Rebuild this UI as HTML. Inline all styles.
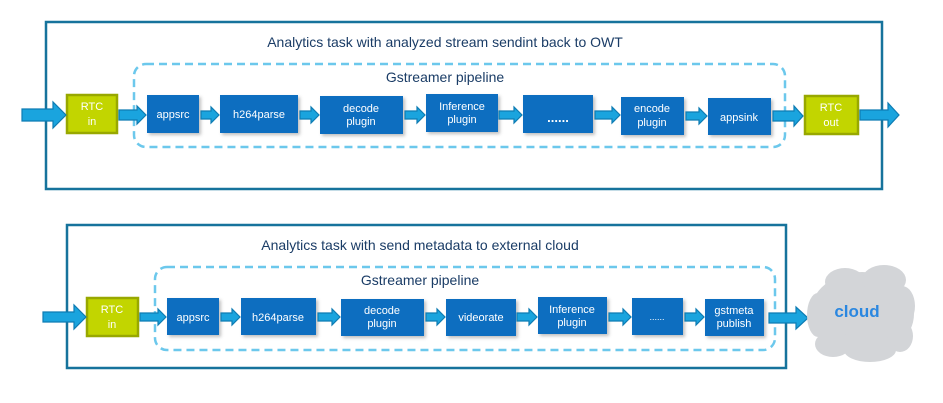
<!DOCTYPE html>
<html><head><meta charset="utf-8"><style>
html,body{margin:0;padding:0;background:#fff;}
svg{display:block;}
text{font-family:"Liberation Sans","DejaVu Sans",sans-serif;}
.t{fill:#1a3c66;font-size:14px;text-anchor:middle;}
.b{fill:#0b6ec0;filter:url(#sh);}
.bt{fill:#fff;font-size:11px;text-anchor:middle;}
.g{fill:#c2d500;stroke:#98a800;stroke-width:2.5;}
.gt{fill:#fff;font-size:11px;text-anchor:middle;}
.a{fill:#1aa4de;stroke:#0e7cb3;stroke-width:1.2;}
</style></head><body>
<svg width="943" height="403" viewBox="0 0 943 403" xmlns="http://www.w3.org/2000/svg">
<defs><filter id="sh" x="-10%" y="-10%" width="130%" height="140%"><feDropShadow dx="2" dy="2" stdDeviation="1.5" flood-color="#000" flood-opacity="0.25"/></filter></defs>

<!-- TOP -->
<rect x="46" y="22" width="836" height="167" fill="#fff" stroke="#16739c" stroke-width="2.5"/>
<text class="t" x="445" y="47">Analytics task with analyzed stream sendint back to OWT</text>
<rect x="134" y="64" width="651" height="83" rx="12" fill="none" stroke="#6cc8ec" stroke-width="2.5" stroke-dasharray="8,5"/>
<text class="t" x="445" y="82">Gstreamer pipeline</text>

<rect class="g" x="67" y="95" width="50" height="38"/><text class="gt" x="92" y="110">RTC</text><text class="gt" x="92" y="125">in</text>
<rect class="g" x="805" y="96" width="53" height="38"/><text class="gt" x="831" y="111">RTC</text><text class="gt" x="831" y="126">out</text>

<rect class="b" x="147" y="95" width="52" height="38"/><text class="bt" x="173" y="118">appsrc</text>
<rect class="b" x="220" y="95" width="78" height="38"/><text class="bt" x="259" y="118">h264parse</text>
<rect class="b" x="320" y="96" width="83" height="38"/><text class="bt" x="361" y="112">decode</text><text class="bt" x="361" y="125">plugin</text>
<rect class="b" x="426" y="94" width="72" height="38"/><text class="bt" x="462" y="110">Inference</text><text class="bt" x="462" y="123">plugin</text>
<rect class="b" x="523" y="95" width="70" height="38"/><text class="bt" x="558" y="122" style="font-size:13px;font-weight:bold">......</text>
<rect class="b" x="621" y="97" width="63" height="38"/><text class="bt" x="652" y="112">encode</text><text class="bt" x="652" y="126">plugin</text>
<rect class="b" x="708" y="98" width="63" height="37"/><text class="bt" x="739" y="121">appsink</text>

<polygon class="a" points="22,109 53,109 53,102 66,115 53,128 53,121 22,121"/>
<polygon class="a" points="119,110 137,110 137,106 146,115 137,124 137,120 119,120"/>
<polygon class="a" points="201,111 211,111 211,107 219,115 211,123 211,119 201,119"/>
<polygon class="a" points="300,111 311,111 311,107 319,115 311,123 311,119 300,119"/>
<polygon class="a" points="405,111 417,111 417,107 425,115 417,123 417,119 405,119"/>
<polygon class="a" points="499,111 514,111 514,107 522,115 514,123 514,119 499,119"/>
<polygon class="a" points="595,111 612,111 612,107 620,115 612,123 612,119 595,119"/>
<polygon class="a" points="686,112 699,112 699,108 707,116 699,124 699,120 686,120"/>
<polygon class="a" points="773,111 794,111 794,106 803,116 794,126 794,121 773,121"/>
<polygon class="a" points="860,110 888,110 888,103 899,115 888,127 888,120 860,120"/>

<!-- BOTTOM -->
<rect x="67" y="225" width="719" height="143" fill="#fff" stroke="#16739c" stroke-width="2.5"/>
<text class="t" x="420" y="250">Analytics task with send metadata to external cloud</text>
<rect x="155" y="267" width="620" height="83" rx="12" fill="none" stroke="#6cc8ec" stroke-width="2.5" stroke-dasharray="8,5"/>
<text class="t" x="420" y="285">Gstreamer pipeline</text>

<rect class="g" x="87" y="298" width="51" height="38"/><text class="gt" x="112" y="313">RTC</text><text class="gt" x="112" y="328">in</text>

<rect class="b" x="167" y="298" width="52" height="37"/><text class="bt" x="193" y="321">appsrc</text>
<rect class="b" x="241" y="298" width="75" height="37"/><text class="bt" x="278" y="321">h264parse</text>
<rect class="b" x="341" y="299" width="83" height="37"/><text class="bt" x="382" y="314">decode</text><text class="bt" x="382" y="327">plugin</text>
<rect class="b" x="446" y="299" width="70" height="37"/><text class="bt" x="481" y="321">videorate</text>
<rect class="b" x="538" y="297" width="69" height="37"/><text class="bt" x="572" y="313">Inference</text><text class="bt" x="572" y="326">plugin</text>
<rect class="b" x="632" y="298" width="51" height="37"/><text class="bt" x="657" y="320" style="font-size:9px">......</text>
<rect class="b" x="705" y="299" width="59" height="37"/><text class="bt" x="734" y="314">gstmeta</text><text class="bt" x="734" y="327">publish</text>

<polygon class="a" points="43,312 74,312 74,305 86,317 74,329 74,322 43,322"/>
<polygon class="a" points="140,313 158,313 158,309 166,317 158,325 158,321 140,321"/>
<polygon class="a" points="221,313 232,313 232,309 240,317 232,325 232,321 221,321"/>
<polygon class="a" points="318,313 332,313 332,309 340,317 332,325 332,321 318,321"/>
<polygon class="a" points="426,313 437,313 437,309 445,317 437,325 437,321 426,321"/>
<polygon class="a" points="517,313 529,313 529,309 537,317 529,325 529,321 517,321"/>
<polygon class="a" points="609,313 623,313 623,309 631,317 623,325 623,321 609,321"/>
<polygon class="a" points="685,313 696,313 696,309 704,317 696,325 696,321 685,321"/>
<polygon class="a" points="769,313 796,313 796,307 808,318 796,329 796,323 769,323"/>

<!-- cloud -->
<g fill="#d3d5d8">
<ellipse cx="862" cy="314" rx="52" ry="42"/>
<ellipse cx="845" cy="282" rx="20" ry="14"/>
<ellipse cx="884" cy="280" rx="22" ry="15"/>
<ellipse cx="902" cy="306" rx="13" ry="20"/>
<ellipse cx="900" cy="336" rx="13" ry="16"/>
<ellipse cx="870" cy="350" rx="26" ry="12"/>
<ellipse cx="833" cy="344" rx="18" ry="13"/>
<ellipse cx="818" cy="315" rx="11" ry="22"/>
</g>
<text x="857" y="317" style="fill:#2a87e0;font-size:17px;font-weight:bold;text-anchor:middle;">cloud</text>
</svg>
</body></html>
